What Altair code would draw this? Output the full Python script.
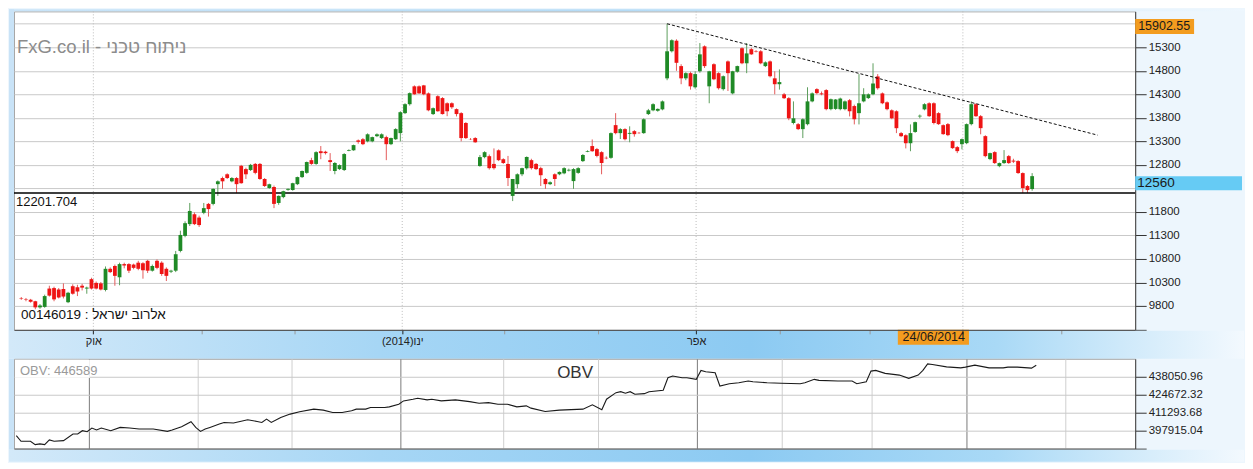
import altair as alt
import pandas as pd

# ---------------- data ----------------
opens = [9960, 9945, 9930, 9900, 9770, 9780, 10170, 10180, 10150, 10160,
         9880, 10220, 10200, 10230, 10170, 10370, 10290, 10280, 10140, 10590,
         10650, 10410, 10690, 10690, 10680, 10720, 10710, 10760, 10550, 10760,
         10720, 10590, 10530, 10550, 10970, 11290, 11540, 11750, 11680, 11780,
         11970, 11970, 12390, 12520, 12600, 12450, 12520, 12780, 12710, 12690,
         12820, 12820, 12500, 12310, 12330, 11990, 12115, 12270, 12265, 12390,
         12540, 12630, 12900, 12820, 13090, 13080, 12900, 12670, 12710, 12690,
         13100, 13110, 13320, 13345, 13300, 13300, 13410, 13370, 13390, 13240,
         13345, 13475, 13900, 14090, 14470, 14470, 14490, 14320, 13880, 14260,
         14220, 14110, 14110, 13985, 13900, 13690, 13350, 13370, 12775, 12965,
         12985, 12820, 13110, 12920, 12820, 12140, 12390, 12600, 12730, 12900,
         12820, 12730, 12500, 12390, 12600, 12600, 12620, 12680, 12455, 12630,
         12880, 13080, 13200, 13135, 13070, 12950, 12950, 13645, 13475, 13560,
         13460, 13517, 13480, 13475, 13880, 13960, 13950, 13980, 14640, 15216,
         15440, 14900, 14640, 14750, 14450, 14790, 15320, 14470, 14940, 14750,
         14410, 15000, 14320, 14780, 15280, 14960, 15260, 15220, 15215, 14900,
         15000, 14640, 14515, 14300, 14218, 13690, 13665, 13560, 13665, 14150,
         14410, 14320, 14390, 13985, 13990, 13985, 13985, 14175, 14050, 13900,
         14150, 14220, 14300, 14680, 14320, 14130, 13960, 13940, 13475, 13430,
         13260, 13500, 13830, 13980, 14110, 14110, 13900, 13644, 13666, 13305,
         13177, 13240, 13262, 13666, 14090, 13835, 13411, 12923, 13071, 12774,
         12838, 12986, 12890, 12880, 12625, 12349, 12286]
highs = [9990, 9970, 9950, 9910, 9840, 10040, 10230, 10210, 10180, 10280,
         10100, 10260, 10250, 10270, 10210, 10400, 10320, 10310, 10640, 10620,
         10680, 10720, 10720, 10710, 10700, 10760, 10730, 10780, 10680, 10790,
         10750, 10620, 10570, 10970, 11400, 11600, 11990, 11790, 11720, 11990,
         11990, 12300, 12470, 12550, 12620, 12540, 12540, 12800, 12740, 12820,
         12840, 12840, 12520, 12400, 12360, 12150, 12250, 12300, 12420, 12550,
         12680, 12870, 12950, 13090, 13200, 13100, 13050, 12860, 12810, 13050,
         13130, 13230, 13340, 13370, 13470, 13400, 13470, 13470, 13420, 13380,
         13580, 13940, 14110, 14340, 14490, 14490, 14500, 14340, 14020, 14280,
         14240, 14130, 14130, 14000, 13920, 13710, 13370, 13390, 13010, 13090,
         13020, 13150, 13130, 12940, 12990, 12500, 12620, 12740, 12980, 12930,
         12840, 12760, 12520, 12450, 12620, 12660, 12750, 12720, 12730, 12750,
         13030, 13110, 13340, 13160, 13090, 12980, 13490, 13900, 13580, 13580,
         13620, 13540, 13500, 13790, 13990, 14110, 14000, 14170, 15800, 15470,
         15470, 14940, 14770, 14780, 14790, 15390, 15340, 14800, 14960, 14770,
         14700, 15020, 14800, 14910, 15300, 15390, 15290, 15240, 15240, 15000,
         15020, 14790, 14830, 14330, 14240, 14150, 13690, 13790, 14450, 14340,
         14430, 14360, 14410, 14210, 14200, 14230, 14170, 14200, 14080, 14730,
         14430, 14320, 14960, 14730, 14340, 14150, 13980, 13960, 13500, 13450,
         13660, 13720, 13870, 14110, 14130, 14130, 13920, 13660, 13690, 13320,
         13200, 13360, 13680, 14150, 14110, 13860, 13430, 13060, 13090, 12850,
         13114, 13010, 12930, 12900, 12640, 12370, 12625]
lows = [9930, 9900, 9870, 9730, 9740, 9760, 10000, 9900, 9960, 9960,
        9860, 10040, 10010, 10130, 10060, 10150, 10150, 10130, 10110, 10500,
        10230, 10240, 10600, 10500, 10580, 10560, 10380, 10500, 10530, 10580,
        10440, 10330, 10500, 10520, 10940, 11260, 11500, 11520, 11480, 11750,
        11700, 11940, 12140, 12290, 12500, 12430, 12200, 12400, 12500, 12670,
        12600, 12480, 12330, 12290, 11880, 11950, 12090, 12250, 12250, 12370,
        12520, 12610, 12800, 12800, 12920, 13020, 12670, 12600, 12690, 12670,
        13090, 13100, 13250, 13220, 13280, 13280, 13390, 13350, 12900, 13220,
        13330, 13300, 13880, 14060, 14290, 14310, 14280, 13940, 13860, 13930,
        13870, 13835, 13990, 13830, 13300, 13350, 13330, 13270, 12760, 12940,
        12700, 12700, 12880, 12820, 12350, 12030, 12300, 12560, 12700, 12700,
        12690, 12350, 12290, 12370, 12350, 12580, 12600, 12660, 12290, 12610,
        12860, 13070, 13080, 12960, 12600, 12920, 12930, 13450, 13350, 13320,
        13280, 13400, 13460, 13460, 13860, 13940, 13930, 13960, 14600, 15190,
        14800, 14515, 14600, 14400, 14420, 14760, 14860, 14110, 14600, 14400,
        14380, 14370, 14300, 14760, 14940, 14750, 15140, 15190, 14940, 14880,
        14660, 14300, 14400, 14200, 13750, 13660, 13540, 13370, 13640, 14130,
        14300, 14280, 13960, 13960, 13970, 13960, 13960, 13830, 13660, 13660,
        14130, 14200, 14280, 14400, 14090, 13960, 13770, 13475, 13390, 13150,
        13090, 13480, 13790, 13960, 13820, 13660, 13650, 13440, 13410, 13140,
        13050, 13130, 13240, 13640, 13820, 13450, 12960, 12900, 12820, 12750,
        12820, 12820, 12840, 12610, 12200, 12200, 12250]
closes = [9950, 9935, 9890, 9770, 9810, 10010, 10020, 9940, 9980, 10000,
          10080, 10060, 10110, 10190, 10190, 10170, 10170, 10150, 10590, 10520,
          10440, 10690, 10660, 10550, 10610, 10590, 10560, 10550, 10650, 10610,
          10480, 10440, 10550, 10900, 11310, 11560, 11820, 11540, 11520, 11880,
          11860, 12290, 12450, 12450, 12520, 12520, 12390, 12410, 12600, 12800,
          12630, 12500, 12350, 12390, 11970, 12140, 12240, 12290, 12410, 12540,
          12670, 12860, 12820, 13070, 13050, 13050, 12860, 12840, 12795, 13030,
          13115, 13220, 13290, 13240, 13450, 13390, 13450, 13450, 13240, 13370,
          13560, 13920, 14090, 14325, 14300, 14320, 14300, 13960, 14005, 13940,
          13880, 13940, 14025, 13880, 13370, 13370, 13345, 13280, 12965, 13070,
          12730, 12730, 12900, 12840, 12520, 12500, 12600, 12730, 12965, 12730,
          12710, 12580, 12390, 12430, 12500, 12650, 12730, 12695, 12710, 12730,
          13010, 13095, 13090, 12990, 12840, 12940, 13475, 13475, 13560, 13345,
          13480, 13453, 13475, 13770, 13960, 14090, 13990, 14150, 15215, 15450,
          14970, 14640, 14750, 14470, 14730, 15150, 14900, 14790, 14620, 14430,
          14685, 14750, 14790, 14900, 14960, 15170, 15150, 15210, 14960, 14980,
          14685, 14515, 14560, 14218, 13790, 13790, 13560, 13770, 14150, 14320,
          14325, 14300, 13985, 14196, 14190, 14210, 14150, 13940, 13770, 14110,
          14300, 14300, 14530, 14430, 14110, 13984, 13790, 13580, 13410, 13260,
          13475, 13708, 13845, 14090, 13835, 13690, 13666, 13453, 13432, 13156,
          13092, 13347, 13666, 14090, 13835, 13581, 12986, 13050, 12838, 12838,
          12901, 12838, 12870, 12625, 12307, 12264, 12560]

obv_idx = [0, 1, 3, 4, 5, 6, 7, 8, 10, 12, 13, 14, 15, 16, 17, 18, 20, 22, 24, 26,
           29, 32, 33, 35, 37, 38, 39, 40, 41, 43, 44, 46, 49, 51, 52, 53, 54, 56, 58, 60,
           63, 65, 67, 69, 71, 72, 74, 75, 78, 79, 81, 82, 84, 85, 87, 88, 90, 93, 96, 98,
           100, 102, 104, 106, 108, 109, 112, 115, 120, 122, 124, 125, 127, 128, 129, 130, 131, 133, 134, 137,
           138, 139, 141, 142, 144, 145, 146, 148, 149, 151, 153, 155, 156, 159, 162, 166, 167, 169, 170, 174,
           177, 178, 180, 181, 182, 184, 187, 189, 191, 192, 193, 194, 197, 200, 201, 203, 206, 209, 210, 212,
           215, 216]
obv_val = [394216, 390002, 390002, 387563, 388080, 387563, 391037, 390002, 390520, 395472,
           395472, 397912, 397173, 399908, 398430, 399908, 397912, 400352, 399908, 399169,
           399169, 397394, 398430, 400869, 404565, 400352, 397394, 399169, 400352, 402865,
           404047, 403603, 406043, 404786, 404047, 406560, 404047, 407743, 410256, 411957,
           413952, 413213, 411439, 411439, 412696, 413952, 413952, 415135, 415135, 415653,
           417649, 420088, 421345, 422084, 420827, 421345, 420088, 420827, 419571, 418388,
           418832, 417649, 417649, 415653, 416392, 414692, 412179, 413213, 413952, 417131,
           413435, 421345, 426223, 426962, 425779, 426962, 425040, 425483, 426962, 427997,
           437310, 438568, 437310, 437310, 436129, 442781, 441746, 441007, 431176, 432876,
           433615, 434872, 434354, 433615, 433172, 432876, 433615, 436129, 435389, 434872,
           434872, 432876, 434354, 442264, 442781, 440564, 439307, 436868, 439307, 442781,
           447661, 447217, 445443, 444704, 445221, 446700, 444704, 444704, 445221, 445221,
           444482, 446589]

price_ticks = [9300, 9800, 10300, 10800, 11300, 11800, 12300, 12800, 13300, 13800, 14300, 14800, 15300, 15800]
hidden_price_labels = [9300, 12300, 15800]   # covered by the price boxes / frame in the reference
obv_ticks = [384536.40, 397915.04, 411293.68, 424672.32, 438050.96]
month_ticks = [15.4, 38.5, 58.3, 81.4, 103.2, 123.2, 144.2, 162.1, 181.2, 201.2, 222.2]
quarter_ticks = [15.4, 81.4, 144.2, 201.2]
quarter_labels = ["אוק", "(2014)ינו", "אפר", ""]
support_level = [12201.704]
trend_idx = [138, 230]
trend_price = [15800, 13432]
cursor_price = [15902.55]
last_price = [12560]
cursor_date = ["24/06/2014"]
cursor_from = [187.3]
cursor_to = [202.5]
site_title = "FxG.co.il - ניתוח טכני"
symbol_label = "00146019 : אלרוב ישראל"
obv_caption = "OBV: 446589"
obv_title = "OBV"

# ---------------- styling ----------------
FONT = "Liberation Sans, Arial, DejaVu Sans, sans-serif"
W, H, H2 = 1123, 319, 90
X_DOM = [-0.49, 236.95]
Y_DOM = [9292, 16064]
OBV_DOM = [384536.40, 451429.60]
GREEN, RED = "#1f8a26", "#ee1414"
GREEN_W, RED_W = "#5d9f5d", "#e45a5a"
ORANGE = "#f39c1f"
LIGHTBLUE = "#66cbf4"

candles = pd.DataFrame({"i": list(range(len(opens))), "o": opens, "h": highs, "l": lows, "c": closes})
obv = pd.DataFrame({"i": obv_idx, "v": obv_val})
one = pd.DataFrame({"k": [0]})


def grad(stops):
    return alt.LinearGradient(gradient="linear",
                              stops=[alt.GradientStop(color=c, offset=o) for o, c in stops],
                              x1=0, x2=1, y1=0, y2=0)


band_stops = [(0, "#d3e9f9"), (0.3, "#a6d6f5"), (0.6, "#8ccaf2"), (0.8, "#a9d9f6"), (1, "#f3f9fe")]
top_stops = [(0, "#c9e4f8"), (0.5, "#b4dbf6"), (1, "#eef7fe")]

q_test = "indexof([" + ",".join(str(v) for v in quarter_ticks) + "], datum.value) >= 0"
label_expr = " : ".join(f"datum.value == {v} ? '{t}'" for v, t in zip(quarter_ticks, quarter_labels) if t) + " : ''"
hide_test = "indexof([" + ",".join(str(v) for v in hidden_price_labels) + "], datum.value) >= 0"

xscale = alt.Scale(domain=X_DOM, nice=False, zero=False)

x_main = alt.X("i:Q", scale=xscale,
               axis=alt.Axis(values=month_ticks, tickCount=50, labelExpr=label_expr, grid=False, tickSize=4,
                             tickColor={"condition": {"test": q_test, "value": "#222222"}, "value": "#9a9a9a"},
                             domainColor="#444444", labelFontSize=11, labelColor="#222222", labelFont=FONT,
                             labelPadding=2, labelOverlap=False, labelFlush=False, title=None, zindex=1))
y_main = alt.Y("l:Q", scale=alt.Scale(domain=Y_DOM, nice=False, zero=False),
               axis=alt.Axis(orient="right", values=price_ticks, tickCount=50, format="d",
                             labelExpr=hide_test + " ? '' : datum.label", labelOverlap=False,
                             grid=True, gridColor="#c9c9c9", tickSize=11, tickColor="#333333",
                             domainColor="#444444", labelFontSize=11.5, labelColor="#222222",
                             labelFont=FONT, labelPadding=2, title=None))

band = alt.Chart(one).mark_rect(color=grad(band_stops)).encode(
    x=alt.value(-5), x2=alt.value(W + 109), y=alt.value(H + 1), y2=alt.value(H + 29))
top_strip = alt.Chart(one).mark_rect(color=grad(top_stops)).encode(
    x=alt.value(-5), x2=alt.value(W + 109), y=alt.value(-2), y2=alt.value(0))
left_strip = alt.Chart(one).mark_rect(color="#c9e3f7").encode(
    x=alt.value(-5), x2=alt.value(0), y=alt.value(-2), y2=alt.value(H + 1))

qrules = alt.Chart(pd.DataFrame({"i": quarter_ticks})).mark_rule(
    color="#bdbdbd", strokeDash=[1, 2], strokeWidth=1).encode(x="i:Q")
level = alt.Chart(pd.DataFrame({"p": support_level})).mark_rule(
    color="#000000", strokeWidth=1.5).encode(y="p:Q")
wicks = alt.Chart(candles).mark_rule(strokeWidth=1).encode(
    x=x_main, y=y_main, y2="h:Q",
    color=alt.condition("datum.c >= datum.o", alt.value(GREEN_W), alt.value(RED_W)))
bodies = alt.Chart(candles).mark_bar(size=3.8).encode(
    x="i:Q", y="o:Q", y2="c:Q",
    color=alt.condition("datum.c >= datum.o", alt.value(GREEN), alt.value(RED)))
trend = alt.Chart(pd.DataFrame({"i": trend_idx, "p": trend_price})).mark_line(
    color="#111111", strokeWidth=1, strokeDash=[3, 2]).encode(x="i:Q", y="p:Q")

title_txt = alt.Chart(pd.DataFrame({"t": [site_title]})).mark_text(
    align="left", baseline="middle", font=FONT, fontSize=18.5, color="#8c8c8c").encode(
    x=alt.value(3), y=alt.value(36), text="t:N")
lvl_txt = alt.Chart(pd.DataFrame({"p": support_level})).mark_text(
    align="left", baseline="middle", font=FONT, fontSize=13, color="#111111", dy=9).encode(
    x=alt.value(2), y="p:Q", text=alt.Text("p:Q", format=".3f"))
sym_txt = alt.Chart(pd.DataFrame({"t": [symbol_label]})).mark_text(
    align="left", baseline="middle", font=FONT, fontSize=13.5, color="#111111").encode(
    x=alt.value(7), y=alt.value(304), text="t:N")

date_df = pd.DataFrame({"a": cursor_from, "b": cursor_to, "t": cursor_date})
date_box = alt.Chart(date_df).mark_rect(color=ORANGE).encode(
    x="a:Q", x2="b:Q", y=alt.value(H), y2=alt.value(H + 15))
date_txt = alt.Chart(date_df).mark_text(
    align="right", baseline="middle", font=FONT, fontSize=12.5, color="#1a1a1a", dx=-4).encode(
    x="b:Q", y=alt.value(H + 7.5), text="t:N")

cur_df = pd.DataFrame({"p": cursor_price})
cur_box = alt.Chart(cur_df).mark_tick(
    color=ORANGE, orient="horizontal", size=59, thickness=15, yOffset=7.5, opacity=1).encode(
    x=alt.value(W + 29.5), y="p:Q")
cur_txt = alt.Chart(cur_df).mark_text(
    align="left", baseline="middle", font=FONT, fontSize=12.5, color="#1a1a1a", dx=3, dy=7.5).encode(
    x=alt.value(W), y="p:Q", text=alt.Text("p:Q", format=".2f"))

last_df = pd.DataFrame({"p": last_price})
last_box = alt.Chart(last_df).mark_tick(
    color=LIGHTBLUE, orient="horizontal", size=107, thickness=14, yOffset=7, opacity=1).encode(
    x=alt.value(W + 53.5), y="p:Q")
last_txt = alt.Chart(last_df).mark_text(
    align="left", baseline="middle", font=FONT, fontSize=13.5, color="#1a1a1a", dx=2, dy=7).encode(
    x=alt.value(W), y="p:Q", text=alt.Text("p:Q", format="d"))

main = alt.layer(
    band, top_strip, left_strip, qrules, wicks, level, bodies, trend,
    title_txt, lvl_txt, sym_txt, date_box, date_txt, cur_box, cur_txt, last_box, last_txt
).properties(width=W, height=H)

# ---------------- OBV panel ----------------
x_obv = alt.X("i:Q", scale=xscale,
              axis=alt.Axis(values=month_ticks, tickCount=50, labels=False, ticks=False, grid=True,
                            gridColor={"condition": {"test": q_test, "value": "#7a7a7a"}, "value": "#cfcfcf"},
                            domainColor="#444444", title=None))
y_obv = alt.Y("v:Q", scale=alt.Scale(domain=OBV_DOM, nice=False, zero=False),
              axis=alt.Axis(orient="right", values=obv_ticks, tickCount=50, format=".2f",
                            labelExpr="datum.value < 390000 ? '' : datum.label", labelOverlap=False,
                            grid=True, gridColor="#c9c9c9", tickSize=11, tickColor="#333333",
                            domainColor="#444444", labelFontSize=11.5, labelColor="#222222",
                            labelFont=FONT, labelPadding=2, title=None))

obv_band = alt.Chart(one).mark_rect(color=grad(band_stops)).encode(
    x=alt.value(-5), x2=alt.value(W + 109), y=alt.value(H2 + 1), y2=alt.value(H2 + 13))
obv_left = alt.Chart(one).mark_rect(color="#c9e3f7").encode(
    x=alt.value(-5), x2=alt.value(0), y=alt.value(0), y2=alt.value(H2 + 1))
obv_line = alt.Chart(obv).mark_line(color="#1a1a1a", strokeWidth=1.1).encode(x=x_obv, y=y_obv)
obv_cap_box = alt.Chart(one).mark_rect(color="#ffffff").encode(
    x=alt.value(1), x2=alt.value(76), y=alt.value(1), y2=alt.value(19))
obv_cap = alt.Chart(pd.DataFrame({"t": [obv_caption]})).mark_text(
    align="left", baseline="middle", font=FONT, fontSize=13, color="#9a9a9a").encode(
    x=alt.value(6), y=alt.value(12), text="t:N")
obv_ttl = alt.Chart(pd.DataFrame({"t": [obv_title]})).mark_text(
    align="center", baseline="middle", font=FONT, fontSize=17, color="#333333").encode(
    x=alt.value(562), y=alt.value(14), text="t:N")

obv_chart = alt.layer(obv_band, obv_left, obv_line, obv_cap_box, obv_cap, obv_ttl).properties(width=W, height=H2)

chart = alt.vconcat(main, obv_chart, spacing=29, bounds="flush").resolve_scale(
    x="independent", y="independent"
).properties(
    background="#edf6fd", padding=0
).configure_view(stroke="#a6a6a6", fill="#ffffff")

chart.save("out.html", embed_options={"renderer": "svg", "actions": False})
